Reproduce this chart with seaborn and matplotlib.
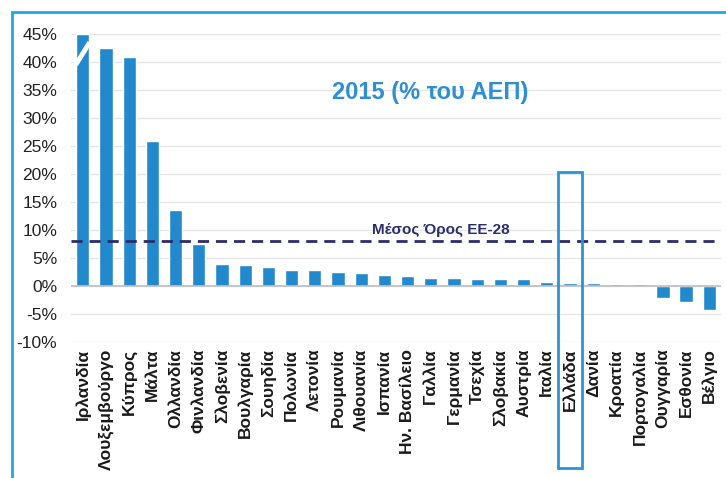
import matplotlib
matplotlib.use('Agg')
import matplotlib.pyplot as plt
import matplotlib.patches as mpatches
import matplotlib.transforms as mtransforms
import seaborn as sns
import pandas as pd

# Data (% of GDP, 2015)
countries = ['Ιρλανδία', 'Λουξεμβούργο', 'Κύπρος', 'Μάλτα', 'Ολλανδία', 'Φινλανδία',
             'Σλοβενία', 'Βουλγαρία', 'Σουηδία', 'Πολωνία', 'Λετονία', 'Ρουμανία',
             'Λιθουανία', 'Ισπανία', 'Ην. Βασίλειο', 'Γαλλία', 'Γερμανία', 'Τσεχία',
             'Σλοβακία', 'Αυστρία', 'Ιταλία', 'Ελλάδα', 'Δανία', 'Κροατία',
             'Πορτογαλία', 'Ουγγαρία', 'Εσθονία', 'Βέλγιο']
values = [45.0, 42.4, 40.9, 25.8, 13.6, 7.4,
          3.9, 3.7, 3.4, 2.9, 2.85, 2.4,
          2.3, 2.0, 1.7, 1.45, 1.4, 1.3,
          1.3, 1.15, 0.75, 0.55, 0.55, 0.3,
          0.3, -2.1, -2.9, -4.4]
eu_avg = 8.0
highlight = 'Ελλάδα'
y_ticks = [-10, -5, 0, 5, 10, 15, 20, 25, 30, 35, 40, 45]

df = pd.DataFrame({'country': countries, 'value': values})

sns.set_style('white')
plt.rcParams['font.family'] = ['Liberation Sans', 'DejaVu Sans']

fig = plt.figure(figsize=(7.26, 4.78), dpi=100)
ax = fig.add_axes([0.098, 0.285, 0.895, 0.644])

# light blue frame around the whole chart
frame = mpatches.Rectangle((12 / 726, -0.2), 1.2, 1.2 - 12 / 478,
                           transform=fig.transFigure, fill=False,
                           edgecolor='#19A9E8', linewidth=2, clip_on=False)
fig.patches.append(frame)

ax.set_axisbelow(True)
ax.yaxis.grid(True, color='#E6E6E6', linewidth=1)
sns.barplot(data=df, x='country', y='value', order=countries, color='#2389CD',
            saturation=1, width=0.57, ax=ax)

ax.axhline(0, color='#BDBDBD', linewidth=1.2, zorder=1)
ax.axhline(eu_avg, color='#2B2D6B', linewidth=2, linestyle=(0, (4, 2.5)), zorder=3)

ax.set_ylim(y_ticks[0], y_ticks[-1])
ax.set_xlim(-0.5, len(countries) - 0.5)
ax.set_yticks(y_ticks)
ax.set_yticklabels([f'{t}%' for t in y_ticks], fontsize=12.5, color='#222222')
ax.set_xlabel('')
ax.set_ylabel('')
ax.tick_params(axis='x', rotation=90, length=0, pad=5)
ax.tick_params(axis='y', length=0, pad=10)
for lbl in ax.get_xticklabels():
    lbl.set_fontsize(12.5)
    lbl.set_fontweight('bold')
    lbl.set_color('#1A1A1A')
for s in ax.spines.values():
    s.set_visible(False)

# break mark on the clipped first bar
ax.plot([-0.3, 0.3], [39.5, 43.5], color='white', linewidth=3.5, zorder=4,
        solid_capstyle='butt', clip_on=False)

# highlight box around Greece, from 20% down past the labels
gi = countries.index(highlight)
box_tr = mtransforms.blended_transform_factory(ax.transData, fig.transFigure)
box = mpatches.Rectangle((gi - 0.5, 1 - 468 / 478), 1.0, (468 - 172) / 478,
                         fill=False, edgecolor='#2B94D6', linewidth=2,
                         clip_on=False, zorder=5, transform=box_tr)
ax.add_patch(box)

ax.text(0.552, 0.81, '2015 (% του ΑΕΠ)', transform=ax.transAxes, ha='center',
        va='center', fontsize=17, fontweight='bold', color='#2E8FD3')
ax.text(12.45, eu_avg + 0.7, 'Μέσος Όρος ΕΕ-28', ha='left', va='bottom',
        fontsize=11, fontweight='bold', color='#2B2D6B')

fig.savefig('out.png', dpi=100)
